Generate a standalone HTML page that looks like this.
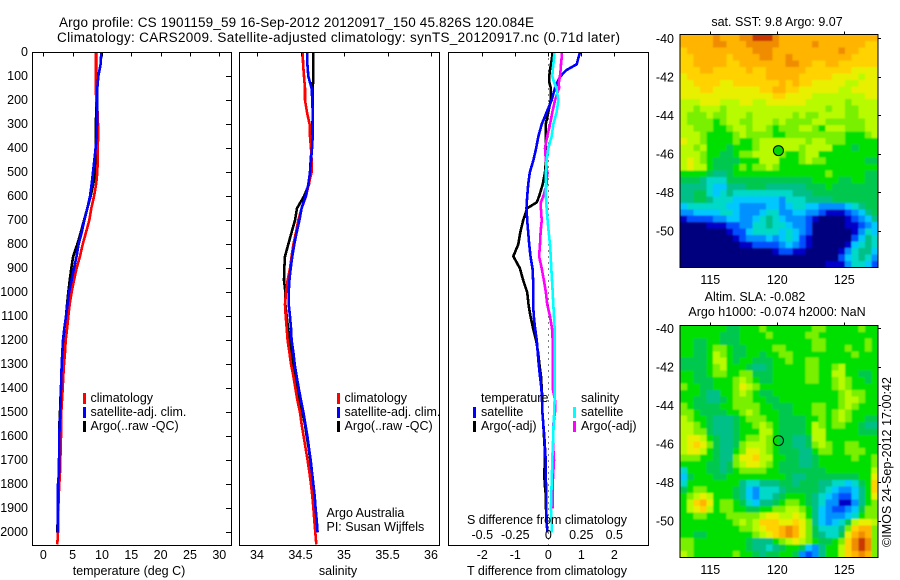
<!DOCTYPE html>
<html>
<head>
<meta charset="utf-8">
<title>Argo profile</title>
<style>
html,body{margin:0;padding:0;background:#fff;}
svg{display:block;}
text{font-family:"Liberation Sans",sans-serif;font-size:12.5px;fill:#000;}
.title{font-size:13.5px;}
</style>
</head>
<body>
<svg id="chart" width="900" height="580" viewBox="0 0 900 580" xmlns="http://www.w3.org/2000/svg">
<defs>
<filter id="mapBlur" filterUnits="userSpaceOnUse" x="660" y="20" width="240" height="560"><feGaussianBlur stdDeviation="0.8"/></filter>
<clipPath id="clipSst"><rect x="680" y="34.5" width="198" height="233"/></clipPath>
<clipPath id="clipSla"><rect x="680" y="325.5" width="198" height="232"/></clipPath>
</defs>
<rect width="900" height="580" fill="#fff"/>
<text class="title" x="59" y="27" textLength="475" lengthAdjust="spacing">Argo profile: CS 1901159_59 16-Sep-2012 20120917_150 45.826S 120.084E</text>
<text class="title" x="57" y="42" textLength="563" lengthAdjust="spacing">Climatology: CARS2009. Satellite-adjusted climatology: synTS_20120917.nc (0.71d later)</text>
<g id="plots"></g>

<text x="129" y="575" text-anchor="middle">temperature (deg C)</text>
<text x="338" y="575" text-anchor="middle">salinity</text>
<text x="547" y="575" text-anchor="middle" textLength="160" lengthAdjust="spacing">T difference from climatology</text>
<text x="547" y="524" text-anchor="middle" textLength="160" lengthAdjust="spacing">S difference from climatology</text>

<g>
<rect x="83" y="393" width="3" height="11" fill="#f00"/>
<text x="90.5" y="402">climatology</text>
<rect x="83" y="407" width="3" height="11" fill="#00f"/>
<text x="90.5" y="416">satellite-adj. clim.</text>
<rect x="83" y="421" width="3" height="11" fill="#000"/>
<text x="90.5" y="430">Argo(..raw -QC)</text>
</g>
<g>
<rect x="337" y="393" width="3" height="11" fill="#f00"/>
<text x="344.5" y="402">climatology</text>
<rect x="337" y="407" width="3" height="11" fill="#00f"/>
<text x="344.5" y="416">satellite-adj. clim.</text>
<rect x="337" y="421" width="3" height="11" fill="#000"/>
<text x="344.5" y="430">Argo(..raw -QC)</text>
</g>
<text x="326.5" y="517">Argo Australia</text>
<text x="326.5" y="531">PI: Susan Wijffels</text>
<g>
<text x="481" y="402">temperature</text>
<rect x="473" y="407" width="3" height="11" fill="#00f"/>
<text x="481" y="416">satellite</text>
<rect x="473" y="421" width="3" height="11" fill="#000"/>
<text x="481" y="430">Argo(-adj)</text>
<text x="581" y="402">salinity</text>
<rect x="573" y="407" width="3" height="11" fill="#0ff"/>
<text x="581" y="416">satellite</text>
<rect x="573" y="421" width="3" height="11" fill="#f0f"/>
<text x="581" y="430">Argo(-adj)</text>
</g>
<text x="777" y="26" text-anchor="middle">sat. SST: 9.8 Argo: 9.07</text>
<text x="755" y="301" text-anchor="middle">Altim. SLA: -0.082</text>
<text x="777" y="316" text-anchor="middle">Argo h1000: -0.074 h2000: NaN</text>
<text transform="translate(891,547) rotate(-90)" textLength="170" lengthAdjust="spacing">©IMOS 24-Sep-2012 17:00:42</text>
</svg>
<script>
// ---------- profile data ----------
const depthLevels = [0,50,100,150,200,250,300,350,400,450,500,550,600,650,700,750,800,850,900,950,1000,1050,1100,1150,1200,1250,1300,1350,1400,1450,1500,1550,1600,1650,1700,1750,1800,1850,1900,1950,2000,2050];
const tempClimatology = [8.92,8.92,8.92,8.92,9.05,9.25,9.32,9.32,9.3,9.28,9.2,9.0,8.64,8.18,7.84,7.27,6.71,6.25,5.68,5.23,4.83,4.5,4.26,4.05,3.81,3.7,3.53,3.41,3.3,3.18,3.07,3.01,3.01,2.97,2.9,2.84,2.73,2.62,2.56,2.56,2.5,2.39];
const tempSatellite = [9.89,9.77,9.38,9.2,9.2,9.17,9.15,9.1,8.92,8.69,8.47,8.24,7.96,7.5,6.99,6.54,6.02,5.68,5.23,4.83,4.38,4.15,3.87,3.58,3.36,3.24,3.13,3.07,3.01,2.96,2.9,2.79,2.73,2.73,2.67,2.67,2.5,2.5,2.5,2.48,2.45];
const tempArgo = [8.98,8.98,8.98,8.98,9.0,9.0,8.98,8.98,8.98,8.95,8.9,8.5,8.07,7.5,6.93,6.4,5.8,5.1,4.77,4.5,4.26,4.05,3.87,3.6,3.4,3.3,3.19,3.1,3.0,2.92,2.85,2.75,2.72,2.72,2.72,2.7,2.6,2.55,2.5,2.45,2.39];
const salClimatology = [34.525,34.53,34.54,34.552,34.552,34.575,34.605,34.609,34.621,34.628,34.628,34.594,34.563,34.513,34.475,34.448,34.418,34.398,34.379,34.352,34.333,34.322,34.33,34.341,34.352,34.372,34.391,34.418,34.441,34.464,34.494,34.513,34.536,34.559,34.582,34.602,34.621,34.636,34.648,34.659,34.67,34.682];
const salSatellite = [34.579,34.579,34.59,34.628,34.636,34.64,34.64,34.64,34.632,34.621,34.609,34.59,34.559,34.513,34.487,34.456,34.429,34.406,34.387,34.372,34.364,34.364,34.379,34.391,34.398,34.418,34.433,34.456,34.479,34.506,34.533,34.556,34.579,34.598,34.617,34.632,34.648,34.663,34.674,34.686,34.697];
const salArgo = [34.648,34.648,34.648,34.64,34.64,34.64,34.638,34.636,34.628,34.617,34.609,34.598,34.54,34.46,34.437,34.398,34.36,34.322,34.314,34.31,34.326,34.326,34.341,34.356,34.379,34.395,34.41,34.437,34.464,34.494,34.521,34.552,34.571,34.594,34.613,34.628,34.64,34.651,34.67,34.686,34.693];

const diffDepths = [0,25,50,75,100,125,150,200,250,300,350,400,450,500,550,600,625,650,700,750,800,850,900,950,1000,1050,1100,1150,1200,1250,1300,1350,1400,1450,1500,1550,1600,1650,1700,1750,1800,1850,1900,1950,2000];
const diffTSatellite = [0.96,0.91,0.86,0.54,0.37,0.27,0.2,0.1,-0.05,-0.2,-0.3,-0.37,-0.45,-0.56,-0.61,-0.64,-0.65,-0.66,-0.64,-0.61,-0.58,-0.54,-0.48,-0.46,-0.46,-0.46,-0.44,-0.4,-0.35,-0.32,-0.29,-0.25,-0.21,-0.19,-0.18,-0.15,-0.12,-0.1,-0.08,-0.08,-0.07,-0.06,-0.06,-0.05,-0.03];
const diffTArgo = [0.13,0.11,0.08,0.05,0.03,0.03,0.08,0.07,0,-0.08,-0.08,-0.07,-0.07,-0.1,-0.17,-0.28,-0.35,-0.64,-0.76,-0.85,-0.91,-1.06,-0.86,-0.76,-0.64,-0.6,-0.54,-0.46,-0.37,-0.31,-0.27,-0.22,-0.2,-0.18,-0.18,-0.15,-0.13,-0.11,-0.1,-0.12,-0.11,-0.07,-0.07,-0.05,-0.03];
const diffSSatellite = [0.045,0.043,0.038,0.033,0.03,0.043,0.063,0.076,0.063,0.038,0.025,0,-0.013,-0.018,-0.018,-0.018,-0.016,-0.013,-0.005,0.003,0.013,0.018,0.023,0.028,0.033,0.038,0.043,0.048,0.048,0.048,0.048,0.048,0.048,0.048,0.045,0.04,0.038,0.033,0.03,0.028,0.025,0.023,0.02,0.025,0.025];
const diffSArgo = [0.104,0.101,0.096,0.093,0.088,0.08,0.081,0.051,0.03,0.013,-0.008,-0.025,-0.018,-0.008,-0.013,-0.038,-0.056,-0.056,-0.05,-0.058,-0.063,-0.07,-0.05,-0.033,-0.018,-0.008,0.013,0.028,0.033,0.033,0.033,0.033,0.033,0.051,0.051,0.038,0.038,0.038,0.043,0.038,0.033,0.033,0.033];

// ---------- tick labels ----------
const depthTicks = [0,100,200,300,400,500,600,700,800,900,1000,1100,1200,1300,1400,1500,1600,1700,1800,1900,2000];
const tempTicks = [0,5,10,15,20,25,30];
const salTicks = [34,34.5,35,35.5,36];
const diffTTicks = [-2,-1,0,1,2];
const diffSTicks = [-0.5,-0.25,0,0.25,0.5];
const lonTicks = [115,120,125];
const latTicks = [-40,-42,-44,-46,-48,-50];
const profileLon = [120.084];
const profileLat = [-45.826];

// ---------- map level grids (30 columns x 36 rows, colour-scale level per cell) ----------
const sstGrid = [
[13,13,13,13,13,14,13,13,13,14,14,15,15,15,14,13,13,13,13,13,13,13,13,13,13,13,13,13,13,13],
[13,13,13,13,13,14,14,13,13,13,14,14,14,14,14,13,13,13,13,13,14,13,13,13,13,13,13,13,12,12],
[12,13,13,13,13,13,13,13,13,13,13,14,14,14,13,13,13,13,13,13,13,13,13,13,14,13,13,12,12,12],
[12,12,13,13,13,13,13,12,13,13,13,13,14,14,13,13,14,13,13,13,13,13,13,13,13,13,12,12,12,12],
[12,12,13,13,13,13,13,12,12,13,13,13,13,13,13,13,14,14,13,13,12,12,13,13,12,12,12,12,12,12],
[12,12,12,13,13,12,12,12,12,12,13,12,12,13,13,13,13,13,13,12,12,12,12,12,12,12,11,11,11,11],
[11,12,12,12,12,12,12,12,12,12,12,12,12,13,13,13,13,13,12,12,12,12,12,11,11,11,11,10,11,11],
[11,11,12,12,12,12,11,11,12,12,12,12,12,12,12,13,12,13,12,12,11,11,11,11,11,10,10,11,11,11],
[11,11,11,12,12,11,11,11,11,11,11,11,12,12,13,13,12,12,11,11,11,11,11,11,10,10,11,11,11,11],
[11,11,11,11,11,11,11,11,11,11,11,11,11,11,12,12,11,11,11,11,10,10,10,10,10,10,10,10,11,11],
[10,10,10,11,11,11,10,10,10,11,11,10,10,11,11,11,11,11,11,10,10,10,10,10,10,9,10,10,10,10],
[10,10,9,10,10,10,9,10,10,10,10,10,10,10,10,10,10,10,10,10,10,10,9,10,10,9,9,10,10,10],
[10,9,9,9,10,9,9,10,10,10,9,10,10,10,10,10,10,9,10,9,9,10,10,10,10,9,9,10,10,10],
[10,9,9,9,9,8,9,10,10,9,9,10,10,10,9,10,9,9,9,9,10,10,9,9,9,9,9,9,10,10],
[10,10,9,9,9,8,8,9,10,10,9,10,10,9,8,9,9,9,10,10,9,8,10,10,10,9,9,9,10,10],
[10,10,10,9,8,8,8,8,9,10,9,9,9,9,8,8,9,9,9,9,9,9,9,9,9,8,8,8,9,10],
[11,10,10,9,8,8,8,8,9,8,8,9,10,10,10,10,10,10,10,9,10,10,9,9,9,8,8,8,8,8],
[10,10,9,10,8,8,8,7,8,8,8,9,10,10,10,10,10,10,9,10,10,10,10,8,8,8,7,8,8,8],
[10,10,10,9,8,8,7,7,8,9,9,10,10,10,10,9,8,8,9,10,10,8,8,8,8,8,8,8,8,8],
[10,11,10,9,8,7,7,7,7,8,8,8,10,10,10,8,8,8,9,10,9,9,8,8,8,8,8,8,7,7],
[10,11,10,10,8,7,7,7,8,9,8,9,9,10,9,8,8,8,8,8,8,8,8,8,8,8,8,8,8,8],
[8,8,8,8,7,6,6,7,8,8,8,8,8,8,8,8,8,8,8,8,8,8,9,8,8,8,8,8,7,7],
[7,7,7,6,5,5,5,7,7,7,7,7,7,7,7,7,7,7,7,7,8,8,8,8,7,7,8,8,7,7],
[6,6,6,6,5,4,4,6,6,6,7,7,7,6,6,6,6,6,6,7,7,7,8,7,7,7,7,7,7,7],
[6,6,7,7,5,4,5,6,5,5,5,5,5,5,5,5,5,6,6,6,7,7,7,7,7,7,7,7,7,7],
[6,6,7,7,6,5,5,5,4,4,4,4,4,4,4,3,5,5,5,6,6,6,6,7,7,7,7,7,7,7],
[4,5,5,5,5,5,5,4,4,3,3,3,3,4,4,3,4,5,5,4,4,3,3,3,3,4,5,6,7,7],
[3,3,4,4,4,4,5,5,4,3,3,3,4,5,5,3,3,4,4,3,3,2,1,1,1,2,3,4,6,7],
[1,2,2,2,2,3,3,4,4,3,3,4,5,6,5,4,3,3,3,2,1,0,0,0,0,1,2,3,4,6],
[0,0,0,0,1,1,1,2,2,3,3,5,5,6,5,5,4,3,3,2,0,0,0,0,0,1,1,2,3,4],
[0,0,0,0,0,0,0,1,2,2,4,5,5,5,5,4,5,4,3,2,0,0,0,0,0,0,1,3,5,4],
[0,0,0,0,0,0,0,0,1,2,3,3,3,4,3,4,5,4,2,1,0,0,0,0,0,0,2,4,6,5],
[0,0,0,0,0,0,0,0,0,1,1,2,2,2,2,3,4,3,2,1,0,0,0,0,0,1,4,5,6,5],
[0,0,0,0,0,0,0,0,0,0,0,0,0,0,1,2,2,1,1,0,0,0,0,0,1,3,5,6,6,4],
[0,0,0,0,0,0,0,0,0,0,0,0,0,0,0,0,0,0,0,0,0,0,0,0,2,4,5,6,5,3],
[0,0,0,0,0,0,0,0,0,0,0,0,0,0,0,0,0,0,0,0,0,0,1,1,1,3,5,5,4,2]
];
const slaGrid = [
[8,8,8,8,8,8,8,7,7,8,8,8,9,8,8,8,8,8,8,8,9,9,8,8,8,8,8,9,8,8],
[8,8,8,8,8,8,7,7,7,8,8,8,8,9,8,8,8,8,8,9,9,8,8,8,8,8,8,8,8,8],
[8,8,7,7,8,8,7,7,7,8,8,8,8,8,8,8,8,8,8,8,9,9,8,8,8,8,8,8,9,8],
[8,8,7,7,8,9,9,8,7,7,8,8,8,8,9,9,8,8,8,8,9,9,8,8,8,9,8,8,9,8],
[8,8,7,7,8,10,9,8,7,7,8,8,7,8,8,9,9,8,8,8,8,8,8,8,8,8,9,8,8,8],
[7,7,7,7,8,10,10,8,7,8,8,7,7,7,8,8,9,8,8,9,9,8,8,8,8,8,8,8,8,8],
[7,7,7,7,8,9,10,8,8,8,7,6,6,7,8,8,8,8,8,9,9,8,8,9,10,8,8,8,8,8],
[8,8,7,7,8,9,9,8,8,9,9,7,7,7,8,8,8,8,8,9,9,8,8,10,10,8,8,7,7,8],
[8,8,7,7,7,8,8,8,9,10,9,8,7,7,8,8,8,8,8,9,9,8,8,9,10,9,8,8,7,8],
[9,8,8,7,7,8,8,8,9,11,10,9,8,8,8,8,8,8,8,8,8,8,8,9,10,9,8,8,8,8],
[8,8,8,7,6,6,8,8,9,10,9,8,7,7,8,8,8,8,8,8,8,8,8,8,9,10,9,9,8,8],
[8,8,7,7,6,6,7,8,9,9,9,8,8,7,7,8,8,8,8,8,8,8,8,8,9,10,10,9,8,8],
[9,8,7,7,7,7,8,8,9,9,9,9,8,8,7,7,7,8,8,8,9,9,8,8,9,10,9,8,8,8],
[9,9,8,7,7,7,7,8,8,9,10,9,8,8,8,7,7,8,8,8,9,9,8,9,10,9,8,8,8,8],
[10,9,8,8,7,6,6,6,7,8,9,9,9,8,8,7,7,7,7,8,8,9,8,9,10,9,8,8,7,7],
[10,10,9,8,7,6,6,6,7,8,8,9,10,9,8,7,7,7,7,8,10,9,8,9,9,8,8,7,6,6],
[10,10,9,9,7,6,6,6,7,8,8,8,10,10,8,7,7,7,7,8,10,10,8,8,8,8,8,7,7,7],
[10,11,11,10,8,7,6,6,7,8,9,9,10,9,8,7,7,6,6,7,10,10,8,8,8,8,8,8,8,8],
[10,11,12,11,9,7,6,6,7,9,10,10,10,9,8,7,7,6,6,7,9,10,9,8,8,9,9,8,8,8],
[10,11,11,10,8,7,6,6,8,9,11,11,10,9,8,7,7,7,6,6,8,9,9,8,8,9,9,9,8,8],
[9,9,9,8,8,7,6,6,9,11,11,12,10,10,8,8,7,7,6,6,7,8,8,8,8,8,9,8,8,9],
[8,8,8,8,7,7,6,7,9,10,11,11,10,9,8,7,7,7,6,6,7,8,8,8,8,8,8,8,8,9],
[5,8,8,8,7,7,6,7,8,9,9,9,9,8,8,7,7,7,7,7,7,7,8,8,8,8,8,8,8,10],
[4,7,8,8,8,7,7,8,8,8,8,8,8,8,8,8,7,6,6,7,7,7,7,7,7,7,7,8,8,11],
[5,8,8,8,8,8,8,8,8,6,5,5,6,6,6,7,7,6,7,7,7,6,6,5,5,4,5,7,8,12],
[7,8,9,9,8,8,8,8,7,6,4,3,5,5,5,6,7,7,7,7,7,6,5,4,3,3,4,6,8,12],
[8,9,10,11,10,8,8,8,7,6,4,3,5,5,6,7,8,8,8,7,6,5,4,3,2,2,4,6,8,11],
[8,10,12,13,11,8,9,9,8,7,5,4,6,6,7,8,9,9,8,7,6,5,3,3,1,1,3,6,8,9],
[8,10,11,12,10,8,9,9,8,8,7,7,8,8,9,9,10,10,9,8,6,4,3,2,2,3,4,7,9,9],
[8,8,9,9,8,8,8,9,9,9,9,9,10,11,11,10,10,11,10,8,6,4,3,3,3,4,5,8,9,9],
[8,8,8,8,8,8,8,8,9,10,9,10,12,12,12,11,11,12,11,9,6,4,3,4,5,7,10,11,11,10],
[8,8,8,8,8,8,8,8,8,9,9,10,11,12,12,13,14,13,11,9,7,5,5,5,6,9,12,13,13,9],
[8,8,7,7,8,8,8,8,8,8,8,9,10,11,12,13,14,13,11,9,7,6,5,5,7,11,13,14,13,9],
[9,9,8,8,8,8,8,8,8,8,7,6,6,6,8,9,10,11,10,9,8,7,7,8,9,12,14,15,14,9],
[9,9,8,8,8,8,8,8,8,8,7,6,6,5,6,7,8,8,7,4,3,6,8,8,10,12,14,15,14,9],
[10,9,8,8,8,8,8,8,9,8,8,7,6,7,7,8,8,7,3,2,3,6,8,8,10,12,13,14,13,9]
];
const levelColors = ['#00007f','#0000c8','#0050ff','#0090ff','#00c8ff','#00d8c8','#00c088','#00c850','#00e000','#78f000','#b8fa00','#e8f000','#ffd200','#ffb400','#f08c00','#c83800'];

// ---------- drawing ----------
const NS = 'http://www.w3.org/2000/svg';
const plots = document.getElementById('plots');
function mk(tag, attrs, parent) {
  const el = document.createElementNS(NS, tag);
  for (const k in attrs) el.setAttribute(k, attrs[k]);
  parent.appendChild(el);
  return el;
}
function linear(d0, r0, d1, r1) {
  return function (v) { return r0 + (v - d0) * (r1 - r0) / (d1 - d0); };
}
const yDepth = linear(0, 52.3, 2000, 532.3);
const PROFILE_TOP = 52.5, PROFILE_BOTTOM = 545.5;

function drawLine(parent, values, depths, xScale, color, name) {
  const n = Math.min(values.length, depths.length);
  const pts = [];
  for (let i = 0; i < n; i++) pts.push(xScale(values[i]).toFixed(1) + ',' + yDepth(depths[i]).toFixed(1));
  const el = mk('polyline', {points: pts.join(' '), fill: 'none', stroke: color, 'stroke-width': 2.6, 'shape-rendering': 'crispEdges'}, parent);
  
  
}
function drawFrame(parent, x0, x1, y0, y1) {
  const el = mk('rect', {x: x0, y: y0, width: x1 - x0, height: y1 - y0, fill: 'none', stroke: '#000', 'stroke-width': 1, 'shape-rendering': 'crispEdges'}, parent);
  
  
}
function drawTopTicks(parent, ticks, xScale, y0, len) {
  ticks.forEach(function (t) {
    const px = Math.round(xScale(t)) + 0.5;
    const el = mk('line', {x1: px, x2: px, y1: y0, y2: y0 + len, stroke: '#000', 'shape-rendering': 'crispEdges'}, parent);
    
    
  });
}
function drawXLabels(parent, ticks, xScale, y) {
  ticks.forEach(function (t) {
    const el = mk('text', {x: xScale(t), y: y, 'text-anchor': 'middle'}, parent);
    el.textContent = String(t);
    
    
  });
}

// temperature panel
const xTemp = linear(0, 43.3, 30, 219.3);
const tempPanel = mk('g', {}, plots);


drawLine(tempPanel, tempArgo, depthLevels, xTemp, '#000', 'temperature-argo-line');
drawLine(tempPanel, tempClimatology, depthLevels, xTemp, '#f00', 'temperature-climatology-line');
drawLine(tempPanel, tempSatellite, depthLevels, xTemp, '#00f', 'temperature-satellite-line');
drawFrame(tempPanel, 32.5, 231.5, PROFILE_TOP, PROFILE_BOTTOM);
drawTopTicks(tempPanel, tempTicks, xTemp, PROFILE_TOP, 4);
drawXLabels(tempPanel, tempTicks, xTemp, 559);
depthTicks.forEach(function (d) {
  const py = Math.round(yDepth(d)) + 0.5;
  const tick = mk('line', {x1: 226, x2: 231.5, y1: py, y2: py, stroke: '#000', 'shape-rendering': 'crispEdges'}, tempPanel);
  
  
  const lab = mk('text', {x: 28, y: yDepth(d) + 3.5, 'text-anchor': 'end'}, tempPanel);
  lab.textContent = String(d);
  
  
});

// salinity panel
const xSal = linear(34, 257, 36, 431);
const salPanel = mk('g', {}, plots);


drawLine(salPanel, salArgo, depthLevels, xSal, '#000', 'salinity-argo-line');
drawLine(salPanel, salClimatology, depthLevels, xSal, '#f00', 'salinity-climatology-line');
drawLine(salPanel, salSatellite, depthLevels, xSal, '#00f', 'salinity-satellite-line');
drawFrame(salPanel, 239.5, 439.5, PROFILE_TOP, PROFILE_BOTTOM);
drawTopTicks(salPanel, salTicks, xSal, PROFILE_TOP, 4);
drawXLabels(salPanel, salTicks, xSal, 559);

// difference panel
const xDiffT = linear(0, 548.3, 2, 614.3);
const xDiffS = linear(0, 548.3, 0.5, 614.3);
const diffPanel = mk('g', {}, plots);


const zeroLine = mk('line', {x1: 548.5, x2: 548.5, y1: PROFILE_TOP, y2: PROFILE_BOTTOM, stroke: '#000', 'stroke-dasharray': '1 5', 'shape-rendering': 'crispEdges'}, diffPanel);


drawLine(diffPanel, diffTArgo, diffDepths, xDiffT, '#000', 't-difference-argo-line');
drawLine(diffPanel, diffTSatellite, diffDepths, xDiffT, '#00f', 't-difference-satellite-line');
drawLine(diffPanel, diffSArgo, diffDepths, xDiffS, '#f0f', 's-difference-argo-line');
drawLine(diffPanel, diffSSatellite, diffDepths, xDiffS, '#0ff', 's-difference-satellite-line');
drawFrame(diffPanel, 448.5, 648.5, PROFILE_TOP, PROFILE_BOTTOM);
drawTopTicks(diffPanel, diffTTicks, xDiffT, PROFILE_TOP, 4);
drawXLabels(diffPanel, diffTTicks, xDiffT, 559);
drawXLabels(diffPanel, diffSTicks, xDiffS, 539);

// maps
function drawMap(name, grid, top, lat40y, bottom, clipId, markerFill) {
  const xLon = linear(115, 710.3, 125, 844.3);
  const yLat = linear(-40, lat40y, -50, lat40y + 192.7);
  const lonStart = 112.75, dLon = 0.4925;
  const latStart = -40 + (lat40y - top) / 19.27, dLat = (bottom - top) / 19.27 / grid.length;
  const g = mk('g', {}, plots);
  
  
  const clip = mk('g', {'clip-path': 'url(#' + clipId + ')'}, g);
  
  
  const cells = mk('g', {filter: 'url(#mapBlur)'}, clip);
  
  
  grid.forEach(function (row, r) {
    row.forEach(function (level, c) {
      let x0 = xLon(lonStart + c * dLon), x1 = xLon(lonStart + (c + 1) * dLon);
      let y0 = yLat(latStart - r * dLat), y1 = yLat(latStart - (r + 1) * dLat);
      if (c === 0) x0 -= 4;
      if (c === row.length - 1) x1 += 4;
      if (r === 0) y0 -= 4;
      if (r === grid.length - 1) y1 += 4;
      const cell = mk('rect', {x: x0.toFixed(2), y: y0.toFixed(2), width: (x1 - x0 + 0.4).toFixed(2), height: (y1 - y0 + 0.4).toFixed(2), fill: levelColors[level], 'shape-rendering': 'crispEdges'}, cells);
      
      
    });
  });
  drawFrame(g, 680, 878, top, bottom);
  lonTicks.forEach(function (t) {
    const px = Math.round(xLon(t)) + 0.5;
    const tick = mk('line', {x1: px, x2: px, y1: top - 3, y2: top, stroke: '#000', 'shape-rendering': 'crispEdges'}, g);
    
    
    const lab = mk('text', {x: xLon(t), y: bottom + 16.5, 'text-anchor': 'middle'}, g);
    lab.textContent = String(t);
    
    
  });
  latTicks.forEach(function (t) {
    const py = Math.round(yLat(t)) + 0.5;
    const tick = mk('line', {x1: 878, x2: 881, y1: py, y2: py, stroke: '#000', 'shape-rendering': 'crispEdges'}, g);
    
    
    const lab = mk('text', {x: 674, y: yLat(t) + 4.5, 'text-anchor': 'end'}, g);
    lab.textContent = String(t);
    
    
  });
  const marker = mk('circle', {cx: xLon(profileLon[0]), cy: yLat(profileLat[0]), r: 5, fill: markerFill, stroke: '#000', 'stroke-width': 1}, g);
  
  
}
drawMap('sst-map', sstGrid, 34.5, 38.3, 267.5, 'clipSst', '#00d800');
drawMap('sla-map', slaGrid, 325.5, 328.3, 557.5, 'clipSla', 'none');
</script>
</body>
</html>
